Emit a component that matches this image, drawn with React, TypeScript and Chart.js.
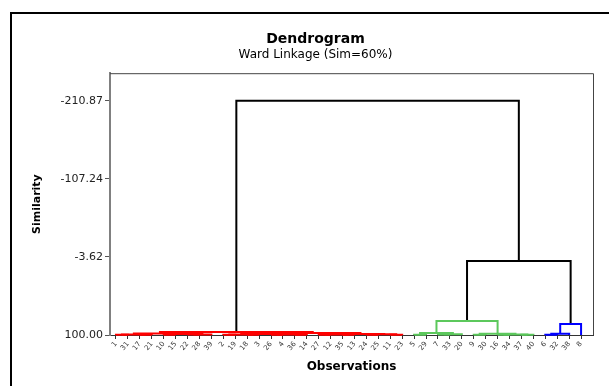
import React, { useEffect, useRef } from "react";
import { Chart, registerables } from "chart.js";

Chart.register(...registerables);

const chartTitle = "Dendrogram";
const chartSubtitle = "Ward Linkage (Sim=60%)";
const xAxisTitle = "Observations";
const yAxisTitle = "Similarity";

// Leaf labels in dendrogram order
const leafLabels = [
  "1", "31", "17", "21", "10", "15", "22", "28", "39", "2",
  "19", "18", "3", "26", "4", "36", "14", "27", "12", "35",
  "13", "24", "25", "11", "23", "5", "29", "7", "33", "20",
  "9", "30", "16", "34", "37", "40", "6", "32", "38", "8",
];

// Final cluster of each leaf (0 = red, 1 = green, 2 = blue)
const leafCluster = [
  0, 0, 0, 0, 0, 0, 0, 0, 0, 0,
  0, 0, 0, 0, 0, 0, 0, 0, 0, 0,
  0, 0, 0, 0, 0, 1, 1, 1, 1, 1,
  1, 1, 1, 1, 1, 1, 2, 2, 2, 2,
];

// Linkage: node ids 0..39 are leaves, 40+k is the k-th merge
const mergeLeft = [
  0, 2, 40, 4, 6, 44, 43, 42, 9, 11,
  48, 13, 15, 51, 50, 17, 19, 55, 21, 23,
  58, 57, 54, 47, 25, 27, 65, 64, 30, 32,
  34, 69, 68, 67, 36, 74, 75, 73, 63,
];
const mergeRight = [
  1, 3, 41, 5, 7, 8, 45, 46, 10, 12,
  49, 14, 16, 52, 53, 18, 20, 56, 22, 24,
  59, 60, 61, 62, 26, 28, 29, 66, 31, 33,
  35, 70, 71, 72, 37, 38, 39, 76, 77,
];
const mergeSim = [
  99.8, 99.6, 99.2, 99.7, 99.5, 99.3, 98.8, 98.0, 99.8, 99.7,
  99.3, 99.8, 99.6, 99.2, 98.6, 99.8, 99.7, 99.4, 99.8, 99.6,
  99.1, 98.7, 97.5, 96.0, 99.6, 99.5, 99.0, 97.5, 99.7, 99.6,
  99.8, 99.2, 98.5, 81.4, 99.6, 98.5, 85.4, 1.7, -210.87,
];

const leafSimilarity = 100;
const yTickValues = [100.0, -3.62, -107.24, -210.87];
const clusterColors = ["#FF0000", "#5CC85C", "#0000FF"];

const framePlugin = {
  id: "frame",
  afterLayout(chart: any) {
    // shift the title block centre to match the reference
    (chart.boxes || []).forEach((b: any) => {
      const t = b && b.options && b.options.text;
      if (t === chartTitle || t === chartSubtitle) {
        b.left += 8;
        b.right += 8;
      }
    });
  },
  beforeDraw(chart: any) {
    const { ctx, width, height } = chart;
    ctx.save();
    ctx.fillStyle = "#ffffff";
    ctx.fillRect(0, 0, width, height);
    ctx.strokeStyle = "#000000";
    ctx.lineWidth = 2;
    ctx.beginPath();
    ctx.moveTo(11, height);
    ctx.lineTo(11, 13);
    ctx.lineTo(width, 13);
    ctx.stroke();
    ctx.restore();
  },
  afterDraw(chart: any) {
    const { ctx, chartArea } = chart;
    ctx.save();
    ctx.strokeStyle = "#444444";
    ctx.lineWidth = 1;
    ctx.beginPath();
    ctx.moveTo(chartArea.left, chartArea.top + 0.5);
    ctx.lineTo(chartArea.right + 0.5, chartArea.top + 0.5);
    ctx.lineTo(chartArea.right + 0.5, chartArea.bottom);
    ctx.stroke();
    ctx.restore();
  },
};

export default function App() {
  const ref = useRef<HTMLCanvasElement>(null);

  useEffect(() => {
    if (!ref.current) return;
    const n = leafLabels.length;
    const nodeX: number[] = [];
    const nodeH: number[] = [];
    const nodeC: number[] = [];
    for (let i = 0; i < n; i++) {
      nodeX.push(i);
      nodeH.push(leafSimilarity);
      nodeC.push(leafCluster[i]);
    }
    const datasets: any[] = [];
    mergeLeft.forEach((l, k) => {
      const r = mergeRight[k];
      const h = mergeSim[k];
      const c = nodeC[l] === nodeC[r] ? nodeC[l] : -1;
      datasets.push({
        data: [
          { x: nodeX[l], y: nodeH[l] },
          { x: nodeX[l], y: h },
          { x: nodeX[r], y: h },
          { x: nodeX[r], y: nodeH[r] },
        ],
        borderColor: c >= 0 ? clusterColors[c] : "#000000",
        borderWidth: 2,
        pointRadius: 0,
        showLine: true,
        fill: false,
        tension: 0,
        clip: false,
      });
      nodeX.push((nodeX[l] + nodeX[r]) / 2);
      nodeH.push(h);
      nodeC.push(c);
    });

    const chart = new Chart(ref.current, {
      type: "scatter",
      data: { datasets },
      plugins: [framePlugin],
      options: {
        animation: false,
        responsive: false,
        layout: { padding: { left: 22, right: 16, top: 23, bottom: 0 } },
        plugins: {
          legend: { display: false },
          tooltip: { enabled: false },
          title: {
            display: true,
            text: chartTitle,
            color: "#000",
            font: { family: "DejaVu Sans", size: 14, weight: "bold" },
            padding: { top: 8, bottom: 0 },
          },
          subtitle: {
            display: true,
            text: chartSubtitle,
            color: "#000",
            font: { family: "DejaVu Sans", size: 12 },
            padding: { top: 0, bottom: 11 },
          },
        },
        scales: {
          x: {
            type: "linear",
            position: "bottom",
            min: -0.5,
            max: 40,
            afterBuildTicks: (s: any) => {
              s.ticks = leafLabels.map((_, i) => ({ value: i }));
            },
            afterFit: (s: any) => {
              s.height = 51;
            },
            grid: { drawOnChartArea: false, drawTicks: true, tickLength: 4, color: "#333" },
            border: { display: true, color: "#333", width: 1 },
            ticks: {
              autoSkip: false,
              minRotation: 50,
              maxRotation: 50,
              padding: 1,
              color: "#333",
              font: { family: "DejaVu Sans", size: 7 },
              callback: (v: any) => leafLabels[v] ?? "",
            },
            title: {
              display: true,
              text: xAxisTitle,
              color: "#000",
              font: { family: "DejaVu Sans", size: 12, weight: "bold" },
              padding: { top: 0, bottom: 12 },
            },
          },
          y: {
            type: "linear",
            reverse: true,
            min: -247.5,
            max: 100,
            afterBuildTicks: (s: any) => {
              s.ticks = yTickValues.map((v) => ({ value: v }));
            },
            afterFit: (s: any) => {
              s.width = 88;
            },
            grid: { drawOnChartArea: false, drawTicks: true, tickLength: 5, color: "#555" },
            border: { display: true, color: "#808080", width: 2 },
            ticks: {
              padding: 2,
              color: "#222",
              font: { family: "DejaVu Sans", size: 11 },
              callback: (v: any) => Number(v).toFixed(2),
            },
            title: {
              display: true,
              text: yAxisTitle,
              color: "#000",
              font: { family: "DejaVu Sans", size: 11, weight: "bold" },
              padding: { top: 9, bottom: 0 },
            },
          },
        },
      } as any,
    });
    return () => chart.destroy();
  }, []);

  return (
    <div style={{ position: "fixed", left: 0, top: 0, width: 609, height: 386 }}>
      <canvas ref={ref} width={609} height={386} style={{ width: 609, height: 386 }} />
    </div>
  );
}
